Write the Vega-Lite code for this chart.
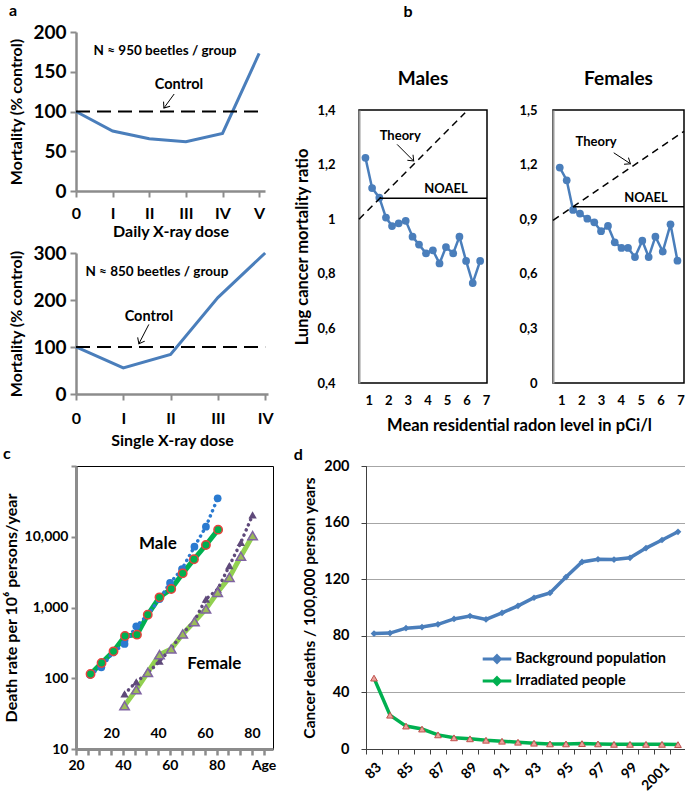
{
  "$schema": "https://vega.github.io/schema/vega-lite/v6.json",
  "padding": {"left": 2, "top": 3, "right": 2, "bottom": 2},
  "background": "white",
  "config": {
    "font": "Lato",
    "view": {"stroke": null},
    "axis": {"labelFont": "Lato", "titleFont": "Lato", "labelFontWeight": "bold", "titleFontWeight": "bold", "labelColor": "#000", "titleColor": "#000", "grid": false, "labelFlush": false, "labelOverlap": false},
    "title": {"font": "Lato", "fontWeight": "bold", "color": "#000"},
    "text": {"font": "Lato", "fontWeight": "bold", "color": "#000"},
    "legend": {"labelFont": "Lato", "labelFontWeight": "bold", "labelColor": "#000"}
  },
  "columns": 1,
  "align": "none",
  "spacing": -3,
  "concat": [
    {
      "align": "none",
      "spacing": 20,
      "concat": [
        {
          "bounds": "flush",
          "spacing": 62,
          "vconcat": [
            {
              "width": 189, "height": 159,
              "title": {"text": "a", "anchor": "start", "fontSize": 16, "offset": 4, "frame": "bounds"},
              "encoding": {
                "x": {"field": "x", "type": "quantitative", "scale": {"domain": [0, 5.16], "nice": false, "zero": false},
                  "axis": {"values": [0, 1, 2, 3, 4, 5], "labelExpr": "['0','I','II','III','IV','V'][datum.value]", "labelOverlap": false, "labelSeparation": 0, "title": "Daily X-ray dose", "titleFontSize": 16, "labelFontSize": 16, "domainColor": "#8c8c8c", "domainWidth": 2.5, "tickColor": "#8c8c8c", "tickWidth": 2, "tickSize": 6, "labelPadding": 8, "titlePadding": 2}},
                "y": {"field": "y", "type": "quantitative", "scale": {"domain": [0, 200], "nice": false},
                  "axis": {"values": [0, 50, 100, 150, 200], "labelOverlap": false, "title": "Mortality (% control)", "titleFontSize": 16, "labelFontSize": 19, "domainColor": "#8c8c8c", "domainWidth": 2.5, "tickColor": "#8c8c8c", "tickWidth": 2, "tickSize": 6, "labelPadding": 4, "titlePadding": 8}}
              },
              "layer": [
                {
                  "data": {"values": [{"x": 0, "y": 100}, {"x": 1, "y": 75.5}, {"x": 2, "y": 65.8}, {"x": 3, "y": 62}, {"x": 4, "y": 72.5}, {"x": 5, "y": 173}]},
                  "mark": {"type": "line", "color": "#4a7ebb", "strokeWidth": 3}
                },
                {
                  "data": {"values": [{"x": 0, "x2": 5.08, "y": 100}]},
                  "mark": {"type": "rule", "color": "#000", "strokeWidth": 2, "strokeDash": [14, 7]},
                  "encoding": {"x2": {"field": "x2"}}
                },
                {
                  "data": {"values": [{"x": 2.43, "y": 176, "t": "N ≈ 950 beetles / group"}]},
                  "mark": {"type": "text", "fontSize": 13.5},
                  "encoding": {"text": {"field": "t"}}
                },
                {
                  "data": {"values": [{"x": 2.81, "y": 133, "t": "Control"}]},
                  "mark": {"type": "text", "fontSize": 14.5},
                  "encoding": {"text": {"field": "t"}}
                },
                {
                  "data": {"values": [{"x": 2.68, "y": 122, "x2": 2.4, "y2": 104.4}]},
                  "mark": {"type": "rule", "color": "#000", "strokeWidth": 1},
                  "encoding": {"x2": {"field": "x2"}, "y2": {"field": "y2"}}
                },
                {
                  "data": {"values": [{"x": 2.4, "y": 104.4}]},
                  "mark": {"type": "point", "shape": "M-1,-0.8L0,0L-1,0.8", "filled": false, "color": "#000", "strokeWidth": 1, "size": 100, "angle": 125.5, "opacity": 1}
                }
              ]
            },
            {
              "width": 192, "height": 141,
              "encoding": {
                "x": {"field": "x", "type": "quantitative", "scale": {"domain": [0, 4.06], "nice": false, "zero": false},
                  "axis": {"values": [0, 1, 2, 3, 4], "labelExpr": "['0','I','II','III','IV','V'][datum.value]", "labelOverlap": false, "labelSeparation": 0, "title": "Single X-ray dose", "titleFontSize": 16, "labelFontSize": 16, "domainColor": "#8c8c8c", "domainWidth": 2.5, "tickColor": "#8c8c8c", "tickWidth": 2, "tickSize": 6, "labelPadding": 10, "titlePadding": 6}},
                "y": {"field": "y", "type": "quantitative", "scale": {"domain": [0, 300], "nice": false},
                  "axis": {"values": [0, 100, 200, 300], "labelOverlap": false, "title": "Mortality (% control)", "titleFontSize": 16, "labelFontSize": 19, "domainColor": "#8c8c8c", "domainWidth": 2.5, "tickColor": "#8c8c8c", "tickWidth": 2, "tickSize": 6, "labelPadding": 4, "titlePadding": 8}}
              },
              "layer": [
                {
                  "data": {"values": [{"x": 0, "y": 100.5}, {"x": 1, "y": 55.6}, {"x": 2, "y": 84}, {"x": 3, "y": 205}, {"x": 4, "y": 300}]},
                  "mark": {"type": "line", "color": "#4a7ebb", "strokeWidth": 3}
                },
                {
                  "data": {"values": [{"x": 0, "x2": 4, "y": 100}]},
                  "mark": {"type": "rule", "color": "#000", "strokeWidth": 2, "strokeDash": [14, 7]},
                  "encoding": {"x2": {"field": "x2"}}
                },
                {
                  "data": {"values": [{"x": 1.71, "y": 260, "t": "N ≈ 850 beetles / group"}]},
                  "mark": {"type": "text", "fontSize": 13.5},
                  "encoding": {"text": {"field": "t"}}
                },
                {
                  "data": {"values": [{"x": 1.54, "y": 164, "t": "Control"}]},
                  "mark": {"type": "text", "fontSize": 14.5},
                  "encoding": {"text": {"field": "t"}}
                },
                {
                  "data": {"values": [{"x": 1.54, "y": 148, "x2": 1.33, "y2": 107}]},
                  "mark": {"type": "rule", "color": "#000", "strokeWidth": 1},
                  "encoding": {"x2": {"field": "x2"}, "y2": {"field": "y2"}}
                },
                {
                  "data": {"values": [{"x": 1.33, "y": 107}]},
                  "mark": {"type": "point", "shape": "M-1,-0.8L0,0L-1,0.8", "filled": false, "color": "#000", "strokeWidth": 1, "size": 100, "angle": 117.4, "opacity": 1}
                }
              ]
            }
          ]
        },
        {
          "bounds": "flush",
          "spacing": 0,
          "vconcat": [
            {
              "width": 98, "height": 78,
              "title": {"text": "b", "anchor": "middle", "fontSize": 16, "offset": 12, "frame": "group"},
              "data": {"values": []},
              "mark": {"type": "point"}
            },
            {
              "bounds": "flush",
              "spacing": 66,
              "hconcat": [
                {
                  "width": 128, "height": 273,
                  "view": {"stroke": "#000", "strokeWidth": 1.5},
                  "title": {"text": "Males", "fontSize": 19, "offset": 15},
                  "encoding": {
                    "x": {"field": "x", "type": "quantitative", "scale": {"domain": [0.5, 7.05], "nice": false, "zero": false},
                      "axis": {"values": [1, 2, 3, 4, 5, 6, 7], "labelOverlap": false, "labelSeparation": 0, "domain": false, "ticks": false, "labelFontSize": 13, "labelPadding": 11, "title": "Mean residential radon level in pCi/l", "titleFontSize": 16.5, "titleX": 160, "titlePadding": 10}},
                    "y": {"field": "y", "type": "quantitative", "scale": {"domain": [0.4, 1.4], "nice": false, "zero": false},
                      "axis": {"values": [0.4, 0.6, 0.8, 1, 1.2, 1.4], "labelOverlap": false, "labelExpr": "replace(toString(datum.value), '.', ',')", "domainColor": "#9a9a9a", "domainWidth": 2, "ticks": false, "labelFontSize": 13, "labelPadding": 24, "title": "Lung cancer mortality ratio", "titleFontSize": 16.5, "titlePadding": 6}}
                  },
                  "layer": [
                    {
                      "data": {"values": [{"x": 0.83, "y": 1.225}, {"x": 1.17, "y": 1.114}, {"x": 1.54, "y": 1.079}, {"x": 1.88, "y": 1.006}, {"x": 2.19, "y": 0.975}, {"x": 2.53, "y": 0.985}, {"x": 2.89, "y": 0.994}, {"x": 3.24, "y": 0.936}, {"x": 3.57, "y": 0.907}, {"x": 3.93, "y": 0.875}, {"x": 4.28, "y": 0.886}, {"x": 4.62, "y": 0.838}, {"x": 4.95, "y": 0.898}, {"x": 5.32, "y": 0.875}, {"x": 5.64, "y": 0.936}, {"x": 5.98, "y": 0.847}, {"x": 6.32, "y": 0.766}, {"x": 6.7, "y": 0.847}]},
                      "mark": {"type": "line", "color": "#4a7ebb", "strokeWidth": 2.5, "point": {"filled": true, "size": 60, "color": "#4a7ebb"}}
                    },
                    {
                      "data": {"values": [{"x": 0.5, "y": 1.0, "x2": 5.93, "y2": 1.39}]},
                      "mark": {"type": "rule", "color": "#000", "strokeWidth": 1.5, "strokeDash": [7, 5]},
                      "encoding": {"x2": {"field": "x2"}, "y2": {"field": "y2"}}
                    },
                    {
                      "data": {"values": [{"x": 1.55, "x2": 7.05, "y": 1.077}]},
                      "mark": {"type": "rule", "color": "#000", "strokeWidth": 1.5},
                      "encoding": {"x2": {"field": "x2"}}
                    },
                    {
                      "data": {"values": [{"x": 2.61, "y": 1.305, "t": "Theory"}, {"x": 4.95, "y": 1.11, "t": "NOAEL"}]},
                      "mark": {"type": "text", "fontSize": 13},
                      "encoding": {"text": {"field": "t"}}
                    },
                    {
                      "data": {"values": [{"x": 2.45, "y": 1.274, "x2": 3.3, "y2": 1.213}]},
                      "mark": {"type": "rule", "color": "#000", "strokeWidth": 1},
                      "encoding": {"x2": {"field": "x2"}, "y2": {"field": "y2"}}
                    },
                    {
                      "data": {"values": [{"x": 3.3, "y": 1.213}]},
                      "mark": {"type": "point", "shape": "M-1,-0.8L0,0L-1,0.8", "filled": false, "color": "#000", "strokeWidth": 1, "size": 100, "angle": 45, "opacity": 1}
                    }
                  ]
                },
                {
                  "width": 131, "height": 273,
                  "view": {"stroke": "#000", "strokeWidth": 1.5},
                  "title": {"text": "Females", "fontSize": 19, "offset": 15},
                  "encoding": {
                    "x": {"field": "x", "type": "quantitative", "scale": {"domain": [0.58, 7.18], "nice": false, "zero": false},
                      "axis": {"values": [1, 2, 3, 4, 5, 6, 7], "labelOverlap": false, "labelSeparation": 0, "domain": false, "ticks": false, "labelFontSize": 13, "labelPadding": 11, "title": null}},
                    "y": {"field": "y", "type": "quantitative", "scale": {"domain": [0, 1.5], "nice": false, "zero": false},
                      "axis": {"values": [0, 0.3, 0.6, 0.9, 1.2, 1.5], "labelOverlap": false, "labelExpr": "replace(toString(datum.value), '.', ',')", "domainColor": "#9a9a9a", "domainWidth": 2, "ticks": false, "labelFontSize": 13, "labelPadding": 16, "title": null}}
                  },
                  "layer": [
                    {
                      "data": {"values": [{"x": 0.92, "y": 1.184}, {"x": 1.27, "y": 1.114}, {"x": 1.59, "y": 0.951}, {"x": 1.94, "y": 0.931}, {"x": 2.31, "y": 0.903}, {"x": 2.66, "y": 0.883}, {"x": 3.0, "y": 0.834}, {"x": 3.35, "y": 0.863}, {"x": 3.69, "y": 0.773}, {"x": 4.03, "y": 0.742}, {"x": 4.36, "y": 0.742}, {"x": 4.71, "y": 0.692}, {"x": 5.08, "y": 0.782}, {"x": 5.4, "y": 0.692}, {"x": 5.74, "y": 0.804}, {"x": 6.11, "y": 0.722}, {"x": 6.5, "y": 0.872}, {"x": 6.85, "y": 0.672}]},
                      "mark": {"type": "line", "color": "#4a7ebb", "strokeWidth": 2.5, "point": {"filled": true, "size": 60, "color": "#4a7ebb"}}
                    },
                    {
                      "data": {"values": [{"x": 0.58, "y": 0.894, "x2": 7.18, "y2": 1.383}]},
                      "mark": {"type": "rule", "color": "#000", "strokeWidth": 1.5, "strokeDash": [7, 5]},
                      "encoding": {"x2": {"field": "x2"}, "y2": {"field": "y2"}}
                    },
                    {
                      "data": {"values": [{"x": 1.59, "x2": 7.18, "y": 0.968}]},
                      "mark": {"type": "rule", "color": "#000", "strokeWidth": 1.5},
                      "encoding": {"x2": {"field": "x2"}}
                    },
                    {
                      "data": {"values": [{"x": 2.75, "y": 1.324, "t": "Theory"}, {"x": 5.27, "y": 1.018, "t": "NOAEL"}]},
                      "mark": {"type": "text", "fontSize": 13},
                      "encoding": {"text": {"field": "t"}}
                    },
                    {
                      "data": {"values": [{"x": 3.64, "y": 1.265, "x2": 4.48, "y2": 1.205}]},
                      "mark": {"type": "rule", "color": "#000", "strokeWidth": 1},
                      "encoding": {"x2": {"field": "x2"}, "y2": {"field": "y2"}}
                    },
                    {
                      "data": {"values": [{"x": 4.48, "y": 1.205}]},
                      "mark": {"type": "point", "shape": "M-1,-0.8L0,0L-1,0.8", "filled": false, "color": "#000", "strokeWidth": 1, "size": 100, "angle": 33.4, "opacity": 1}
                    }
                  ]
                }
              ]
            }
          ]
        }
      ]
    },
    {
      "align": "none",
      "spacing": 16,
      "concat": [
        {
          "width": 197, "height": 283,
          "view": {"stroke": "#000", "strokeWidth": 1},
          "title": {"text": "c", "anchor": "start", "fontSize": 16, "offset": -3, "frame": "bounds"},
          "layer": [
            {
              "encoding": {
                "x": {"field": "age", "type": "quantitative", "scale": {"domain": [20, 104], "nice": false, "zero": false},
                  "axis": {"values": [20, 25, 30, 35, 40, 45, 50, 55, 60, 65, 70, 75, 80, 85, 90, 95, 100], "labelExpr": "datum.value % 20 == 0 ? (datum.value == 100 ? 'Age' : datum.label) : ''", "labelOverlap": false, "labelSeparation": 0, "title": null, "labelFontSize": 14, "domainColor": "#8c8c8c", "domainWidth": 3, "tickColor": "#8c8c8c", "tickWidth": 2.5, "tickSize": 6, "labelPadding": 3}},
                "y": {"field": "v", "type": "quantitative", "scale": {"type": "log", "domain": [10, 100000], "nice": false},
                  "axis": {"values": [10, 100, 1000, 10000, 100000], "labelOverlap": false, "labelExpr": "datum.value >= 100000 ? '' : format(datum.value, ',')", "title": "Death rate per 10⁶ persons/year", "titleFontSize": 16, "labelFontSize": 14, "domainColor": "#8c8c8c", "domainWidth": 3, "tickColor": "#8c8c8c", "tickWidth": 2, "tickSize": 5, "labelPadding": 3, "titlePadding": 5}}
              },
              "layer": [
                {
                  "data": {"values": [{"age": 26.2, "v": 115}, {"age": 30.9, "v": 164}, {"age": 36.0, "v": 240}, {"age": 40.9, "v": 395}, {"age": 46.0, "v": 413}, {"age": 50.6, "v": 791}, {"age": 55.6, "v": 1393}, {"age": 60.6, "v": 1825}, {"age": 65.5, "v": 3040}, {"age": 70.3, "v": 4800}, {"age": 75.4, "v": 7640}, {"age": 80.6, "v": 12600}]},
                  "mark": {"type": "line", "color": "#00b050", "strokeWidth": 5}
                },
                {
                  "data": {"values": [{"age": 26.0, "v": 112}, {"age": 30.8, "v": 143}, {"age": 35.8, "v": 232}, {"age": 40.7, "v": 305}, {"age": 45.7, "v": 542}, {"age": 50.6, "v": 790}, {"age": 55.6, "v": 1318}, {"age": 60.1, "v": 2220}, {"age": 65.2, "v": 3500}, {"age": 70.5, "v": 7230}, {"age": 75.4, "v": 13900}, {"age": 80.4, "v": 34900}]},
                  "layer": [
                    {"mark": {"type": "line", "color": "#2a7ad0", "strokeWidth": 3.5, "strokeDash": [0.1, 5.5], "strokeCap": "round"}},
                    {"mark": {"type": "point", "filled": true, "color": "#2a7ad0", "size": 60, "opacity": 1}}
                  ]
                },
                {
                  "data": {"values": [{"age": 26.2, "v": 115}, {"age": 30.9, "v": 164}, {"age": 36.0, "v": 240}, {"age": 40.9, "v": 395}, {"age": 46.0, "v": 413}, {"age": 50.6, "v": 791}, {"age": 55.6, "v": 1393}, {"age": 60.6, "v": 1825}, {"age": 65.5, "v": 3040}, {"age": 70.3, "v": 4800}, {"age": 75.4, "v": 7640}, {"age": 80.6, "v": 12600}]},
                  "mark": {"type": "point", "filled": true, "fill": "#00b050", "stroke": "#e8413c", "strokeWidth": 1.5, "size": 70, "opacity": 1}
                },
                {
                  "data": {"values": [{"age": 54.9, "v": 7890, "t": "Male"}, {"age": 79, "v": 159, "t": "Female"}]},
                  "mark": {"type": "text", "fontSize": 17},
                  "encoding": {"text": {"field": "t"}}
                }
              ]
            },
            {
              "encoding": {
                "x": {"field": "age", "type": "quantitative", "scale": {"domain": [5, 89], "nice": false, "zero": false},
                  "axis": {"orient": "bottom", "offset": -25, "values": [20, 40, 60, 80], "labelOverlap": false, "domain": false, "ticks": false, "title": null, "labelFontSize": 14, "labelPadding": 2}},
                "y": {"field": "v", "type": "quantitative", "scale": {"type": "log", "domain": [10, 100000], "nice": false},
                  "axis": {"values": [10, 100, 1000, 10000, 100000], "labelOverlap": false, "labelExpr": "datum.value >= 100000 ? '' : format(datum.value, ',')", "title": "Death rate per 10⁶ persons/year", "titleFontSize": 16, "labelFontSize": 14, "domainColor": "#8c8c8c", "domainWidth": 3, "tickColor": "#8c8c8c", "tickWidth": 2, "tickSize": 5, "labelPadding": 3, "titlePadding": 5}}
              },
              "layer": [
                {
                  "data": {"values": [{"age": 25.7, "v": 41}, {"age": 30.7, "v": 69}, {"age": 35.6, "v": 121}, {"age": 40.6, "v": 215}, {"age": 45.6, "v": 259}, {"age": 50.5, "v": 422}, {"age": 55.5, "v": 631}, {"age": 60.4, "v": 953}, {"age": 65.4, "v": 1640}, {"age": 70.4, "v": 2670}, {"age": 75.3, "v": 5300}, {"age": 80.3, "v": 10360}]},
                  "mark": {"type": "line", "color": "#92d050", "strokeWidth": 5}
                },
                {
                  "data": {"values": [{"age": 25.7, "v": 60}, {"age": 30.7, "v": 89}, {"age": 35.6, "v": 118}, {"age": 40.6, "v": 174}, {"age": 45.6, "v": 265}, {"age": 50.5, "v": 430}, {"age": 55.5, "v": 650}, {"age": 60.4, "v": 1318}, {"age": 65.4, "v": 1800}, {"age": 70.4, "v": 3900}, {"age": 75.3, "v": 8300}, {"age": 80.3, "v": 20300}]},
                  "layer": [
                    {"mark": {"type": "line", "color": "#5f497a", "strokeWidth": 3.5, "strokeDash": [0.1, 5.5], "strokeCap": "round"}},
                    {"mark": {"type": "point", "shape": "triangle-up", "filled": true, "color": "#5f497a", "size": 70, "opacity": 1}}
                  ]
                },
                {
                  "data": {"values": [{"age": 25.7, "v": 41}, {"age": 30.7, "v": 69}, {"age": 35.6, "v": 121}, {"age": 40.6, "v": 215}, {"age": 45.6, "v": 259}, {"age": 50.5, "v": 422}, {"age": 55.5, "v": 631}, {"age": 60.4, "v": 953}, {"age": 65.4, "v": 1640}, {"age": 70.4, "v": 2670}, {"age": 75.3, "v": 5300}, {"age": 80.3, "v": 10360}]},
                  "mark": {"type": "point", "shape": "triangle-up", "filled": true, "fill": "#9bbb59", "stroke": "#8064a2", "strokeWidth": 1.5, "size": 90, "opacity": 1}
                }
              ]
            }
          ],
          "resolve": {"scale": {"x": "independent"}, "axis": {"x": "independent"}}
        },
        {
          "width": 320, "height": 283,
          "view": {"stroke": "#000", "strokeWidth": 1},
          "title": {"text": "d", "anchor": "start", "fontSize": 16, "offset": -5, "dx": -9, "frame": "bounds"},
          "data": {"values": [
            {"year": 1983, "s": "Background population", "v": 81.6}, {"year": 1984, "s": "Background population", "v": 81.9}, {"year": 1985, "s": "Background population", "v": 85.4}, {"year": 1986, "s": "Background population", "v": 86.2}, {"year": 1987, "s": "Background population", "v": 88.1}, {"year": 1988, "s": "Background population", "v": 91.9}, {"year": 1989, "s": "Background population", "v": 94.0}, {"year": 1990, "s": "Background population", "v": 91.6}, {"year": 1991, "s": "Background population", "v": 96.2}, {"year": 1992, "s": "Background population", "v": 101.2}, {"year": 1993, "s": "Background population", "v": 106.9}, {"year": 1994, "s": "Background population", "v": 110.3}, {"year": 1995, "s": "Background population", "v": 121.5}, {"year": 1996, "s": "Background population", "v": 132.2}, {"year": 1997, "s": "Background population", "v": 134.1}, {"year": 1998, "s": "Background population", "v": 133.9}, {"year": 1999, "s": "Background population", "v": 135.1}, {"year": 2000, "s": "Background population", "v": 142.0}, {"year": 2001, "s": "Background population", "v": 147.7}, {"year": 2002, "s": "Background population", "v": 153.5},
            {"year": 1983, "s": "Irradiated people", "v": 50.1}, {"year": 1984, "s": "Irradiated people", "v": 23.9}, {"year": 1985, "s": "Irradiated people", "v": 16.2}, {"year": 1986, "s": "Irradiated people", "v": 14.1}, {"year": 1987, "s": "Irradiated people", "v": 10.0}, {"year": 1988, "s": "Irradiated people", "v": 7.9}, {"year": 1989, "s": "Irradiated people", "v": 7.2}, {"year": 1990, "s": "Irradiated people", "v": 6.2}, {"year": 1991, "s": "Irradiated people", "v": 5.5}, {"year": 1992, "s": "Irradiated people", "v": 4.8}, {"year": 1993, "s": "Irradiated people", "v": 4.1}, {"year": 1994, "s": "Irradiated people", "v": 3.6}, {"year": 1995, "s": "Irradiated people", "v": 3.6}, {"year": 1996, "s": "Irradiated people", "v": 3.8}, {"year": 1997, "s": "Irradiated people", "v": 3.6}, {"year": 1998, "s": "Irradiated people", "v": 3.3}, {"year": 1999, "s": "Irradiated people", "v": 3.3}, {"year": 2000, "s": "Irradiated people", "v": 3.3}, {"year": 2001, "s": "Irradiated people", "v": 3.3}, {"year": 2002, "s": "Irradiated people", "v": 3.1}
          ]},
          "encoding": {
            "x": {"field": "year", "type": "ordinal", "bandPosition": 0.5, "scale": {"type": "band", "paddingInner": 0, "paddingOuter": 0},
              "axis": {"labelExpr": "datum.value % 2 == 0 ? '' : (datum.value < 2000 ? substring(toString(datum.value), 2) : toString(datum.value))", "labelAngle": -45, "tickBand": "extent", "labelOverlap": false, "title": null, "labelFontSize": 14, "labelPadding": 6, "domainColor": "#404040", "tickColor": "#404040", "tickSize": 5}},
            "y": {"field": "v", "type": "quantitative", "scale": {"domain": [0, 200], "nice": false},
              "axis": {"values": [0, 40, 80, 120, 160, 200], "labelOverlap": false, "grid": true, "gridColor": "#a6a6a6", "gridWidth": 1, "title": "Cancer deaths / 100,000 person years", "titleFontSize": 15.5, "labelFontSize": 14.5, "domainColor": "#404040", "tickColor": "#404040", "tickSize": 5, "labelPadding": 12, "titlePadding": 6}}
          },
          "layer": [
            {
              "mark": {"type": "line", "strokeWidth": 3.5},
              "encoding": {
                "color": {"field": "s", "type": "nominal", "scale": {"domain": ["Background population", "Irradiated people"], "range": ["#4a7ebb", "#00b050"]},
                  "legend": {"orient": "none", "legendX": 408.5, "legendY": 614.5, "title": null, "labelFontSize": 14.5, "symbolType": "M-1.3,0H1.3M0,-0.3L0.3,0L0,0.3L-0.3,0Z", "symbolSize": 484, "symbolStrokeWidth": 3, "rowPadding": 0, "labelOffset": 6}}
              }
            },
            {
              "transform": [{"filter": "datum.s == 'Background population'"}],
              "mark": {"type": "point", "shape": "diamond", "filled": true, "color": "#4a7ebb", "size": 45, "opacity": 1}
            },
            {
              "transform": [{"filter": "datum.s == 'Irradiated people'"}],
              "mark": {"type": "point", "shape": "triangle-up", "filled": true, "fill": "#eaa29c", "stroke": "#c0504d", "strokeWidth": 1, "size": 45, "opacity": 1}
            }
          ]
        }
      ]
    }
  ]
}
